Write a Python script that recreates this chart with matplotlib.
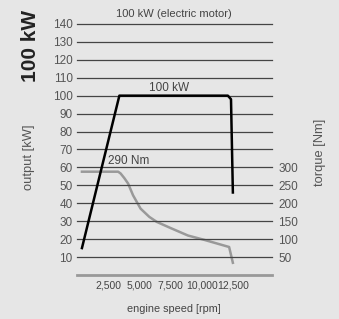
import matplotlib
matplotlib.use('Agg')
import matplotlib.pyplot as plt

plt.rcParams['font.family'] = ['Liberation Sans', 'DejaVu Sans']

# Data
power_rpm = [400, 3400, 12100, 12350, 12500]
power_kw = [15, 100, 100, 98, 46]

torque_rpm = [400, 3300, 3500, 3800, 4100, 4500, 5100, 5800, 6400, 7500, 8900, 10200, 12200, 12500]
torque_nm = [288, 288, 283, 270, 255, 222, 185, 162, 148, 131, 110, 98, 78, 34]

kw_ticks = [10, 20, 30, 40, 50, 60, 70, 80, 90, 100, 110, 120, 130, 140]
nm_ticks = [50, 100, 150, 200, 250, 300]
rpm_ticks = [2500, 5000, 7500, 10000, 12500]
rpm_labels = ['2,500', '5,000', '7,500', '10,000', '12,500']

bg = '#e6e6e6'
fig = plt.figure(figsize=(3.39, 3.19), dpi=100, facecolor=bg)
ax = fig.add_axes([0.227, 0.138, 0.574, 0.787], facecolor=bg)
ax2 = ax.twinx()

ax.set_xlim(0, 15600)
ax.set_ylim(0, 140)
ax2.set_ylim(0, 700)

ax.set_yticks(kw_ticks)
ax.set_yticklabels([str(v) for v in kw_ticks])
ax2.set_yticks(nm_ticks)
ax2.set_yticklabels([str(v) for v in nm_ticks])
ax.set_xticks(rpm_ticks)
ax.set_xticklabels(rpm_labels)

for v in kw_ticks:
    ax.axhline(v, color='#444444', lw=0.9, zorder=1, clip_on=False)

for a in (ax, ax2):
    for s in ['top', 'left', 'right', 'bottom']:
        a.spines[s].set_visible(False)
ax.axhline(0, color='#999999', lw=2, zorder=1, clip_on=False)

ax.tick_params(axis='y', length=0, pad=3, labelsize=8.5, labelcolor='#555555')
ax2.tick_params(axis='y', length=0, pad=5, labelsize=8.5, labelcolor='#555555')
ax.tick_params(axis='x', length=0, pad=4, labelsize=7.5, labelcolor='#444444')

ax2.plot(torque_rpm, torque_nm, color='#999999', lw=1.8, zorder=3)
ax.plot(power_rpm, power_kw, color='black', lw=1.8, zorder=4, solid_joinstyle='round')
ax.set_zorder(ax2.get_zorder() + 1)
ax.patch.set_visible(False)
ax2.patch.set_visible(True)
ax2.patch.set_facecolor(bg)

ax.text(7800, 145.5, '100 kW (electric motor)', ha='center', va='center',
        fontsize=8, color='#444444', clip_on=False)
ax.text(7400, 104.5, '100 kW', ha='center', va='center', fontsize=8.5, color='#444444')
ax.text(2500, 63.5, '290 Nm', ha='left', va='center', fontsize=8.5, color='#444444')

fig.text(0.089, 0.856, '100 kW', rotation=90, ha='center', va='center',
         fontsize=15, fontweight='bold', color='#222222')
fig.text(0.085, 0.508, 'output [kW]', rotation=90, ha='center', va='center',
         fontsize=9.3, color='#555555')
fig.text(0.945, 0.523, 'torque [Nm]', rotation=90, ha='center', va='center',
         fontsize=9.3, color='#555555')
fig.text(0.513, 0.03, 'engine speed [rpm]', ha='center', va='center',
         fontsize=7.8, color='#444444')

fig.savefig('out.png', dpi=100, facecolor=bg)
